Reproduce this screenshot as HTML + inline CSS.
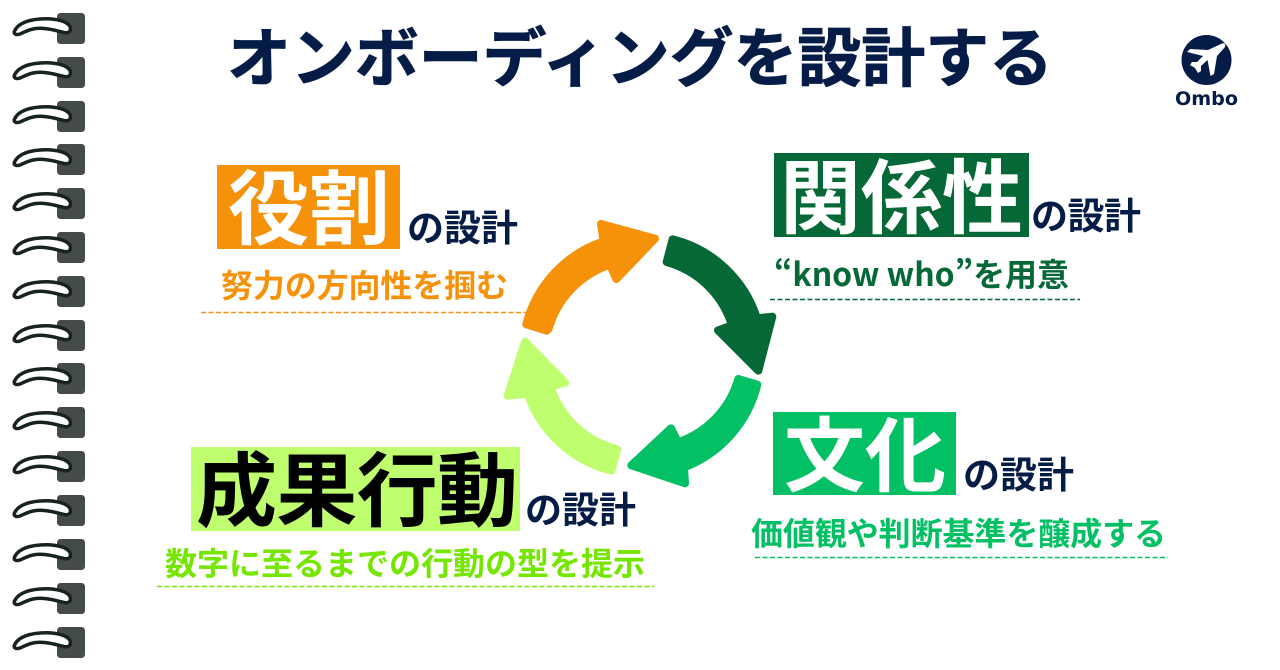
<!DOCTYPE html>
<html lang="ja"><head><meta charset="utf-8">
<style>
html,body{margin:0;padding:0;background:#fff;width:1280px;height:670px;overflow:hidden}
svg{display:block}
text{font-family:"Noto Sans CJK JP","Liberation Sans",sans-serif;font-weight:700}
.t{font-size:37px;fill:#051c47}
.s{font-size:32px}
.b{font-size:81px}
</style></head><body>
<svg width="1280" height="670" viewBox="0 0 1280 670" xmlns="http://www.w3.org/2000/svg">
<defs>
<g id="ring">
<rect x="57" y="13" width="28" height="31" rx="3.5" fill="#454b4b"/>
<path d="M14.500 31C18 23 30 18.700 46 18.700C56 18.700 67 21 70 26.500C71.500 31 69 33.500 64 32.500C56 30.500 46 27.500 36 28.500C28 29.500 24 32.500 20 34C15.500 35.500 13.500 33.500 14.500 31Z" fill="#fff" stroke="#172321" stroke-width="3.500"/>
</g>
</defs>
<use href="#ring" y="0"/><use href="#ring" y="44"/><use href="#ring" y="88"/><use href="#ring" y="131"/><use href="#ring" y="175"/>
<use href="#ring" y="219"/><use href="#ring" y="263"/><use href="#ring" y="307"/><use href="#ring" y="350"/><use href="#ring" y="394"/>
<use href="#ring" y="438"/><use href="#ring" y="482"/><use href="#ring" y="526"/><use href="#ring" y="570"/><use href="#ring" y="614"/>

<text x="227" y="81" font-size="64" fill="#051c47" stroke="#051c47" stroke-width=".8" textLength="826" lengthAdjust="spacing">オンボーディングを設計する</text>

<circle cx="1206.500" cy="60" r="25" fill="#051c47"/>
<path d="M1222 43.500C1225 42.500 1226 44 1225 47L1217 56L1214 74L1210.500 76L1207.500 60L1201 66L1201 71L1198 73L1195 68L1190 65L1192 62L1197 62L1203 56L1187 52L1190 49L1208 50Z" fill="#fff"/>
<text x="1175" y="105" style="font-family:'DejaVu Sans',sans-serif;font-weight:700" font-size="19" fill="#051c47" textLength="63" lengthAdjust="spacingAndGlyphs">Ombo</text>

<g transform="translate(490 205) scale(.33333)" stroke-width="24" stroke-linejoin="round">
<path fill="#f59209" stroke="#f59209" d="M109 358A356 356 0 0 1 341 109L333 57L495 101L379 222L360 179A285 285 0 0 0 176 371L170 377Z"/>
<path fill="#056836" stroke="#056836" d="M548 103A356 356 0 0 1 801 340L847 335L805 497L684 376L726 361A285 285 0 0 0 530 171Z"/>
<path fill="#04c064" stroke="#04c064" d="M745 522L802 539A356 356 0 0 1 582 787L585 835L424 781L543 670L564 712A285 285 0 0 0 745 522Z"/>
<path fill="#bfff6f" stroke="#bfff6f" d="M382 733L364 797A356 356 0 0 1 113 566L53 572L105 410L225 533L181 544A285 285 0 0 0 382 733Z"/>
</g>

<rect x="217" y="165" width="183" height="84" fill="#f59209"/>
<text class="b" x="228" y="238" fill="#fff" font-size="81">役割</text>
<text class="t" x="407" y="241" textLength="111">の設計</text>
<text class="s" x="221" y="297" fill="#f59209" textLength="287">努力の方向性を掴む</text>
<line x1="201" y1="312.500" x2="527" y2="312.500" stroke="#f59209" stroke-width="1.600" stroke-dasharray="5 2.500"/>

<rect x="774" y="153" width="255" height="84" fill="#056836"/>
<text class="b" x="780" y="227" fill="#fff">関係性</text>
<text class="t" x="1031" y="229" textLength="110">の設計</text>
<text class="s" x="774" y="286" fill="#056836" textLength="295">“know who”を用意</text>
<line x1="770" y1="299.500" x2="1080" y2="299.500" stroke="#056836" stroke-width="1.600" stroke-dasharray="5 2.500"/>

<rect x="773" y="412" width="183" height="83" fill="#04c064"/>
<text class="b" x="784" y="485" fill="#fff">文化</text>
<text class="t" x="963" y="488" textLength="111">の設計</text>
<text class="s" x="751" y="545" fill="#04c064" textLength="415">価値観や判断基準を醸成する</text>
<line x1="755" y1="557.500" x2="1168" y2="557.500" stroke="#04c064" stroke-width="1.600" stroke-dasharray="5 2.500"/>

<rect x="191" y="447" width="329" height="84" fill="#bfff6f"/>
<text class="b" x="196" y="520" fill="#000" textLength="322">成果行動</text>
<text class="t" x="525" y="523" textLength="111">の設計</text>
<text class="s" x="165" y="575" fill="#74e600" textLength="480">数字に至るまでの行動の型を提示</text>
<line x1="157" y1="586.500" x2="654" y2="586.500" stroke="#74e600" stroke-width="1.600" stroke-dasharray="5 2.500"/>
</svg>
</body></html>
